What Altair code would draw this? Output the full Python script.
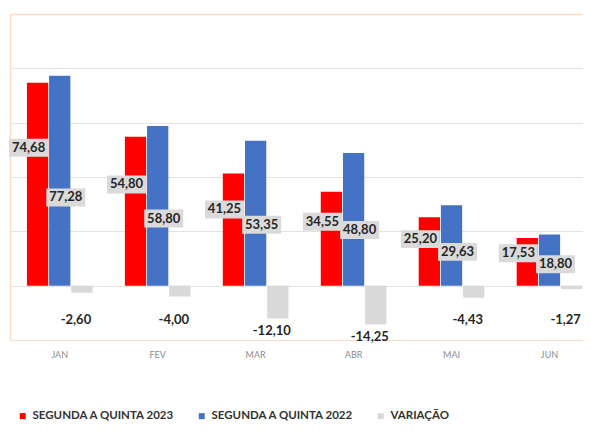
import altair as alt
import pandas as pd

months = ["JAN", "FEV", "MAR", "ABR", "MAI", "JUN"]
v2023 = [74.68, 54.80, 41.25, 34.55, 25.20, 17.53]
v2022 = [77.28, 58.80, 53.35, 48.80, 29.63, 18.80]
variacao = [-2.60, -4.00, -12.10, -14.25, -4.43, -1.27]
series = ["SEGUNDA A QUINTA 2023", "SEGUNDA A QUINTA 2022", "VARIAÇÃO"]
colors = ["#ff0000", "#4472c4", "#d9d9d9"]

rows = []
for i, m in enumerate(months):
    for s, vals in zip(series, [v2023, v2022, variacao]):
        v = vals[i]
        rows.append({"mes": m, "serie": s, "valor": v,
                     "rotulo": f"{v:.2f}".replace(".", ",")})
df = pd.DataFrame(rows)

S23, S22, SV = series
PEACH = "#f8dcc8"

x_enc = alt.X("mes:N", sort=months, title=None,
              scale=alt.Scale(paddingInner=0.33, paddingOuter=0.09, align=0.96),
              axis=alt.Axis(labelAngle=0, labelFont="Lato", labelFontSize=9,
                            labelColor="#8c8c8c", labelPadding=10,
                            domain=False, ticks=False, grid=False))
xo_enc = alt.XOffset("serie:N", sort=series,
                     scale=alt.Scale(paddingInner=0.04, paddingOuter=0))

base = alt.Chart(df).transform_calculate(
    ly=f"datum.serie == '{S23}' ? datum.valor * 0.68 : "
       f"(datum.serie == '{S22}' ? datum.valor * 0.42 : min(datum.valor, -8) - 4.5)"
)

bars = base.mark_bar().encode(
    x=x_enc,
    xOffset=xo_enc,
    y=alt.Y("valor:Q", title=None,
            scale=alt.Scale(domain=[-20, 100], nice=False),
            axis=alt.Axis(values=[-20, 0, 20, 40, 60, 80, 100], labels=False,
                          ticks=False, domain=True, domainColor=PEACH,
                          domainWidth=1.5, grid=True,
                          gridColor={"condition": {"test": "datum.value == 100 || datum.value == -20",
                                                   "value": PEACH},
                                     "value": "#e3e3e3"},
                          gridWidth={"condition": {"test": "datum.value == 100",
                                                   "value": 1.5},
                                     "value": 1})),
    color=alt.Color("serie:N", sort=series,
                    scale=alt.Scale(domain=series, range=colors),
                    legend=alt.Legend(title=None, orient="none", direction="horizontal",
                                      legendX=7, legendY=396, columns=3,
                                      symbolType="square", symbolSize=36,
                                      symbolStrokeWidth=0,
                                      labelFont="Lato", labelFontSize=11.5,
                                      labelFontWeight="bold", labelColor="#333333",
                                      labelLimit=300, columnPadding=21,
                                      labelOffset=4)),
)

box_red_path = "M-1.46,-0.46L0.54,-0.46L0.54,0.46L-1.46,0.46Z"
box_blue_path = "M-0.69,-0.46L1.31,-0.46L1.31,0.46L-0.69,0.46Z"

box_red = base.transform_filter(alt.datum.serie == S23).mark_point(
    shape=box_red_path, filled=True, size=1521, color="#dadada", opacity=1,
    strokeWidth=0
).encode(x=x_enc, xOffset=xo_enc, y="ly:Q")

box_blue = base.transform_filter(alt.datum.serie == S22).mark_point(
    shape=box_blue_path, filled=True, size=1521, color="#dadada", opacity=1,
    strokeWidth=0
).encode(x=x_enc, xOffset=xo_enc, y="ly:Q")

txt_style = dict(font="Lato", fontSize=13, fontWeight="bold", color="#262626")

txt_red = base.transform_filter(alt.datum.serie == S23).mark_text(
    dx=-9, **txt_style).encode(x=x_enc, xOffset=xo_enc, y="ly:Q", text="rotulo:N")
txt_blue = base.transform_filter(alt.datum.serie == S22).mark_text(
    dx=6, **txt_style).encode(x=x_enc, xOffset=xo_enc, y="ly:Q", text="rotulo:N")
txt_var = base.transform_filter(alt.datum.serie == SV).mark_text(
    dx=-6, **txt_style).encode(x=x_enc, xOffset=xo_enc, y="ly:Q", text="rotulo:N")

chart = alt.layer(bars, box_red, box_blue, txt_red, txt_blue, txt_var).properties(
    width=573, height=326,
    autosize=alt.AutoSizeParams(type="none"),
    padding={"left": 2, "top": 6, "right": 0, "bottom": 84},
).configure_view(strokeWidth=0).configure(background="white")

chart.save("out.html", embed_options={"renderer": "svg", "actions": False})
